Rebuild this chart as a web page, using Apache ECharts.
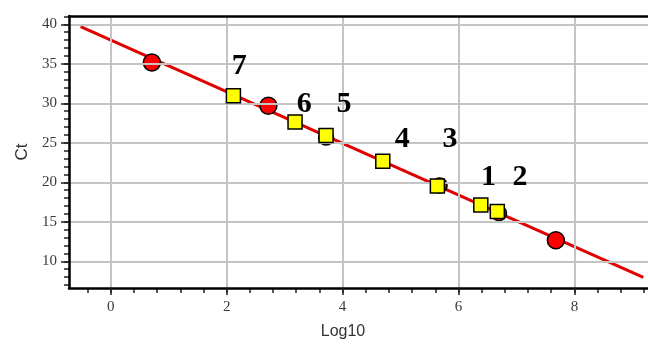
<!DOCTYPE html>
<html><head><meta charset="utf-8">
<script src="https://cdn.jsdelivr.net/npm/echarts@6/dist/echarts.min.js"></script>
<style>html,body{margin:0;padding:0;background:#fff}#c{width:648px;height:345px}</style>
</head><body><div id="c"></div>
<script>
// Fit line endpoints (Log10, Ct)
const fitX = [-0.52, 9.19];
const fitY = [39.7, 7.97];
// Standards (red circles)
const stdX = [0.71, 2.72, 7.68];
const stdY = [35.16, 29.70, 12.67];
// Partially hidden standards behind samples
const hidX = [3.716, 5.674, 6.699];
const hidY = [25.66, 19.61, 16.08];
// Samples (yellow squares)
const smpX = [6.385, 6.67, 5.636, 4.694, 3.715, 3.18, 2.117];
const smpY = [17.12, 16.29, 19.52, 22.67, 25.91, 27.64, 30.96];
// Sample number labels
const lblText = ['1', '2', '3', '4', '5', '6', '7'];
const lblX = [6.516, 7.063, 5.855, 5.032, 4.026, 3.341, 2.219];
const lblY = [20.58, 20.58, 25.41, 25.41, 29.82, 29.82, 34.65];
// Axis ticks
const xMajor = [0, 2, 4, 6, 8];
const yMajor = [10, 15, 20, 25, 30, 35, 40];
const xMinor = []; for (let i = -1; i <= 23; i++) xMinor.push(+(i * 0.4).toFixed(1));
const yMinor = []; for (let v = 7; v <= 41; v++) yMinor.push(v);

const X_MIN = -0.72, X_MAX = 9.27, Y_MIN = 6.62, Y_MAX = 41.05;
const serif = 'Liberation Serif';
const chart = echarts.init(document.getElementById('c'));
chart.setOption({
  animation: false,
  grid: { left: 69, top: 16, right: 0, bottom: 56, show: false },
  xAxis: [
    { type: 'value', position: 'bottom', min: X_MIN, max: X_MAX,
      name: 'Log10', nameLocation: 'middle', nameGap: 36,
      nameTextStyle: { fontFamily: 'Liberation Sans', fontSize: 16, color: '#333', padding: [0, 31, 0, 0] },
      axisLine: { show: true, onZero: false, lineStyle: { color: '#000', width: 2.5 } },
      axisTick: { show: true, customValues: xMajor, length: 7, lineStyle: { color: '#222', width: 1.5 } },
      axisLabel: { show: true, customValues: xMajor, margin: 12, fontFamily: serif, fontSize: 15, color: '#3a3a3a' },
      splitLine: { show: true, lineStyle: { color: '#c4c4c4', width: 2 } },
      z: 5 },
    { type: 'value', position: 'bottom', min: X_MIN, max: X_MAX,
      axisLine: { show: false, onZero: false },
      axisTick: { show: true, customValues: xMinor, length: 5, lineStyle: { color: '#222', width: 1.5 } },
      axisLabel: { show: false }, splitLine: { show: false } },
    { type: 'value', position: 'top', min: X_MIN, max: X_MAX,
      axisLine: { show: true, onZero: false, lineStyle: { color: '#000', width: 2.5 } },
      axisTick: { show: false }, axisLabel: { show: false }, splitLine: { show: false }, z: 5 }
  ],
  yAxis: [
    { type: 'value', position: 'left', min: Y_MIN, max: Y_MAX,
      name: 'Ct', nameLocation: 'middle', nameGap: 38, nameRotate: 90,
      nameTextStyle: { fontFamily: 'Liberation Sans', fontSize: 17, color: '#333' },
      axisLine: { show: true, onZero: false, lineStyle: { color: '#000', width: 2.5 } },
      axisTick: { show: true, customValues: yMajor, length: 8, lineStyle: { color: '#222', width: 1.5 } },
      axisLabel: { show: true, customValues: yMajor, margin: 12, fontFamily: serif, fontSize: 15, color: '#3a3a3a' },
      splitLine: { show: true, lineStyle: { color: '#c4c4c4', width: 2 } },
      z: 5 },
    { type: 'value', position: 'left', min: Y_MIN, max: Y_MAX,
      axisLine: { show: false, onZero: false },
      axisTick: { show: true, customValues: yMinor, length: 5, lineStyle: { color: '#222', width: 1.5 } },
      axisLabel: { show: false }, splitLine: { show: false } }
  ],
  series: [
    { type: 'line', data: fitX.map((x, i) => [x, fitY[i]]), showSymbol: false, symbol: 'none',
      lineStyle: { color: '#e00000', width: 3 }, z: 2 },
    { type: 'scatter', data: hidX.map((x, i) => [x, hidY[i]]), symbol: 'circle', symbolSize: 15,
      itemStyle: { color: '#ff0000', borderColor: '#000', borderWidth: 1.5, opacity: 1 }, z: 3 },
    { type: 'scatter', data: stdX.map((x, i) => [x, stdY[i]]), symbol: 'circle', symbolSize: 17,
      itemStyle: { color: '#ff0000', borderColor: '#000', borderWidth: 1.5, opacity: 1 }, z: 4 },
    { type: 'scatter', data: smpX.map((x, i) => [x, smpY[i]]), symbol: 'rect', symbolSize: 14,
      itemStyle: { color: '#ffff00', borderColor: '#000', borderWidth: 1.5, opacity: 1 }, z: 5 },
    { type: 'scatter', data: lblX.map((x, i) => [x, lblY[i], lblText[i]]), symbolSize: 0,
      itemStyle: { color: '#000', opacity: 1 },
      label: { show: true, position: 'inside', formatter: p => p.data[2],
        fontFamily: serif, fontWeight: 'bold', fontSize: 30, color: '#000',
        textBorderWidth: 0, textBorderColor: 'transparent' }, z: 6 }
  ]
});
</script></body></html>
